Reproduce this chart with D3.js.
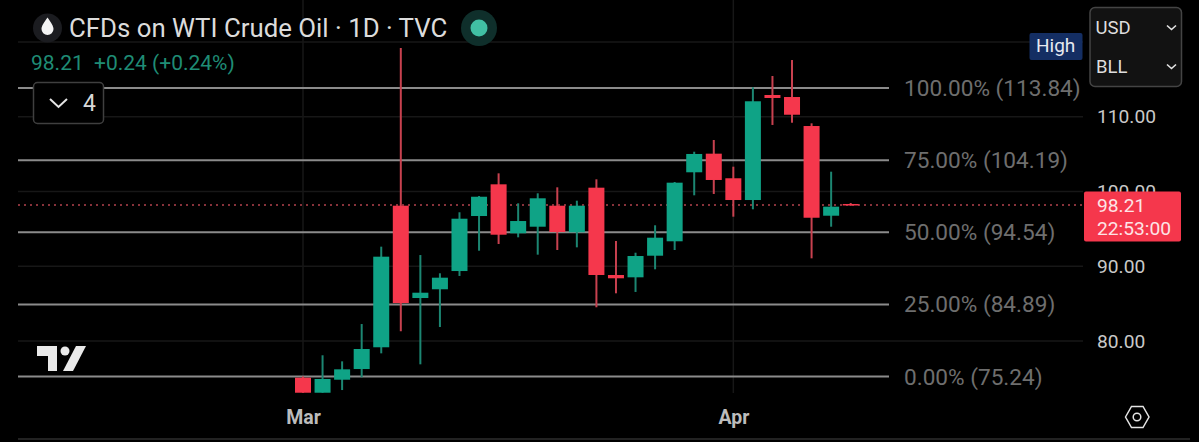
<!DOCTYPE html>
<html>
<head>
<meta charset="utf-8">
<script src="https://cdn.jsdelivr.net/npm/d3@7"></script>
<style>
  html, body { margin: 0; background: #000; }
  svg { display: block; font-family: Roboto, sans-serif; }
</style>
</head>
<body>
<svg id="chart" width="1199" height="442"></svg>
<script>
// trading days, Mar 2 to Apr 9
const days = ["03-02","03-03","03-04","03-05","03-06","03-09","03-10","03-11","03-12","03-13",
  "03-16","03-17","03-18","03-19","03-20","03-23","03-24","03-25","03-26","03-27",
  "03-30","03-31","04-01","04-02","04-03","04-06","04-07","04-08","04-09"];
const opens = [75.09,73.08,74.82,76.25,79.16,98.10,85.75,86.92,89.36,96.72,100.96,94.41,95.29,98.10,94.54,
  100.51,88.83,88.52,91.41,93.34,102.57,105.06,101.77,98.86,112.91,112.64,108.76,96.76,98.33];
const closes = [73.08,74.92,76.21,78.93,91.28,85.08,86.46,88.47,96.36,99.30,94.22,96.05,99.09,94.58,98.10,
  88.83,88.39,91.37,93.82,101.18,105.02,101.54,98.86,112.07,112.51,110.27,96.49,97.97,98.21];
const highs = [75.24,78.09,77.28,82.27,92.62,119.20,91.50,89.06,97.22,99.40,102.43,98.42,99.76,100.56,98.77,
  101.63,93.38,91.81,95.48,101.27,105.32,106.89,103.32,113.94,115.45,117.59,109.12,102.65,98.46];
const lows = [73.08,73.08,73.44,75.14,78.35,81.30,76.88,81.87,88.70,92.08,92.98,93.87,91.55,92.17,92.53,
  84.51,86.38,86.56,89.59,92.17,99.49,99.67,96.63,97.62,108.90,109.20,91.06,95.29,98.10];

const fibLevels = [100, 75, 50, 25, 0];
const fibPrices = [113.84, 104.19, 94.54, 84.89, 75.24];
const priceTicks = [110, 100, 90, 80];
const gridPrices = [120, 110, 100, 90, 80];
const monthTicks = ["03-02", "04-01"];
const monthNames = ["Mar", "Apr"];
const lastPrice = 98.21;

const red = "#f5374c", green = "#0fa386";
const redWick = "#c8414f", greenWick = "#1c8672";

const svg = d3.select("#chart");
const x = d3.scalePoint().domain(days).range([303, 850.7]);
const y = d3.scaleLinear().domain([80, 110]).range([341, 116.75]);
const bodyWidth = 16;

// grid
const grid = svg.append("g").attr("stroke", "#171717").attr("stroke-width", 1.5);
grid.selectAll("line.h").data(gridPrices).join("line").attr("class", "h")
  .attr("x1", 18).attr("x2", 1083).attr("y1", (d) => y(d)).attr("y2", (d) => y(d));
grid.selectAll("line.v").data(monthTicks).join("line").attr("class", "v")
  .attr("x1", (d) => x(d)).attr("x2", (d) => x(d)).attr("y1", 0).attr("y2", 393);

// fib levels
svg.append("g").selectAll("line").data(fibPrices).join("line")
  .attr("x1", 18).attr("x2", 889)
  .attr("y1", (d) => y(d)).attr("y2", (d) => y(d))
  .attr("stroke", "#8b8b8b").attr("stroke-width", 2);

svg.append("g").selectAll("text").data(fibPrices).join("text")
  .attr("x", 904).attr("y", (d) => y(d) + 8)
  .attr("fill", "#6e6e6e").attr("font-size", 22.6)
  .text((d, i) => `${fibLevels[i].toFixed(2)}% (${d.toFixed(2)})`);

// last price line
svg.append("line").attr("x1", 18).attr("x2", 1084)
  .attr("y1", y(lastPrice)).attr("y2", y(lastPrice))
  .attr("stroke", "#b4434e").attr("stroke-width", 1.5).attr("stroke-dasharray", "2 4");

// candles
const candles = svg.append("g").selectAll("g").data(days).join("g")
  .attr("transform", (d) => `translate(${x(d)},0)`);
candles.append("line")
  .attr("y1", (d, i) => y(highs[i])).attr("y2", (d, i) => y(lows[i]))
  .attr("stroke", (d, i) => (closes[i] >= opens[i] ? greenWick : redWick))
  .attr("stroke-width", 2);
candles.append("rect")
  .attr("x", -bodyWidth / 2).attr("width", bodyWidth)
  .attr("y", (d, i) => y(Math.max(opens[i], closes[i])))
  .attr("height", (d, i) => Math.max(1.5, Math.abs(y(opens[i]) - y(closes[i]))))
  .attr("fill", (d, i) => (closes[i] >= opens[i] ? green : red));

// price axis
const yAxis = svg.append("g").attr("transform", "translate(1097,0)")
  .call(d3.axisRight(y).tickValues(priceTicks).tickSize(0).tickPadding(0).tickFormat(d3.format(".2f")));
yAxis.select(".domain").remove();
yAxis.selectAll("text").attr("fill", "#c9c9c9").attr("font-size", 19.2).attr("font-family", "Roboto, sans-serif");

// time axis
const xAxis = svg.append("g").attr("transform", "translate(0,410)")
  .call(d3.axisBottom(x).tickValues(monthTicks).tickSize(0).tickPadding(0)
    .tickFormat((d) => monthNames[monthTicks.indexOf(d)]));
xAxis.select(".domain").remove();
xAxis.selectAll("text").attr("fill", "#bcbcbc").attr("font-size", 19.5).attr("font-weight", 700)
  .attr("font-family", "Roboto, sans-serif");
svg.append("line").attr("x1", 18).attr("x2", 1190).attr("y1", 439).attr("y2", 439)
  .attr("stroke", "#222").attr("stroke-width", 2);

// last price tag
svg.append("rect").attr("x", 1084).attr("y", 191.5).attr("width", 97).attr("height", 50).attr("rx", 2).attr("fill", red);
svg.append("text").attr("x", 1097).attr("y", 212).attr("fill", "#fde4e6").attr("font-size", 19.2).text("98.21");
svg.append("text").attr("x", 1097).attr("y", 235).attr("fill", "#fde4e6").attr("font-size", 19.2).text("22:53:00");

// header
svg.append("circle").attr("cx", 47.5).attr("cy", 28).attr("r", 14.5).attr("fill", "#1b1c20");
svg.append("path").attr("d", "M47.5 17.5C51 22.5 53.5 26 53.5 29a6 6 0 0 1-12 0C41.5 26 44 22.5 47.5 17.5Z").attr("fill", "#f4f4f4");
svg.append("text").attr("x", 69).attr("y", 37).attr("fill", "#dcdcdc").attr("font-size", 25.8).text("CFDs on WTI Crude Oil · 1D · TVC");
svg.append("circle").attr("cx", 479).attr("cy", 28).attr("r", 18).attr("fill", "#0f2f2b");
svg.append("circle").attr("cx", 479).attr("cy", 28).attr("r", 8.5).attr("fill", "#41bfa3");
svg.append("text").attr("x", 31).attr("y", 70).attr("fill", "#1f8c75").attr("font-size", 21).text("98.21");
svg.append("text").attr("x", 94).attr("y", 70).attr("fill", "#1f8c75").attr("font-size", 21).text("+0.24 (+0.24%)");

// collapsed indicators button
svg.append("rect").attr("x", 33.5).attr("y", 82.5).attr("width", 70).attr("height", 41).attr("rx", 4)
  .attr("fill", "#000").attr("stroke", "#3f3f3f").attr("stroke-width", 1.5);
svg.append("path").attr("d", "M50 99l8.5 8 8.5-8").attr("fill", "none").attr("stroke", "#e4e4e4").attr("stroke-width", 2);
svg.append("text").attr("x", 83).attr("y", 111).attr("fill", "#d8d8d8").attr("font-size", 23).text("4");

// high badge
svg.append("rect").attr("x", 1029.5).attr("y", 33).attr("width", 53).attr("height", 27).attr("rx", 2).attr("fill", "#142e63");
svg.append("text").attr("x", 1036).attr("y", 52).attr("fill", "#e6e9f0").attr("font-size", 19).text("High");

// currency box
svg.append("rect").attr("x", 1090).attr("y", 7.5).attr("width", 91.5).attr("height", 79).attr("rx", 5)
  .attr("fill", "#121212").attr("stroke", "#444").attr("stroke-width", 1.5);
svg.append("text").attr("x", 1095.5).attr("y", 34).attr("fill", "#dedede").attr("font-size", 18.5).text("USD");
svg.append("text").attr("x", 1096).attr("y", 73).attr("fill", "#dedede").attr("font-size", 18.5).text("BLL");
svg.selectAll("path.chev").data([27.5, 66.5]).join("path").attr("class", "chev")
  .attr("d", (d) => `M1167 ${d - 2}l4.5 4 4.5-4`)
  .attr("fill", "none").attr("stroke", "#e4e4e4").attr("stroke-width", 1.6);

// tradingview logo
const logo = svg.append("g").attr("transform", "translate(37,345)").attr("fill", "#e9e9e9");
logo.append("path").attr("d", "M0 1H20V26H11V11H0Z");
logo.append("circle").attr("cx", 28).attr("cy", 6).attr("r", 4.5);
logo.append("path").attr("d", "M39 1H49L36 26H26Z");

// settings hexagon
svg.append("path").attr("d", "M1125.5 417l6-10.5h11.5l6 10.5-6 10.5h-11.5Z")
  .attr("fill", "none").attr("stroke", "#e4e4e4").attr("stroke-width", 1.5);
svg.append("circle").attr("cx", 1137).attr("cy", 417).attr("r", 3.8)
  .attr("fill", "none").attr("stroke", "#e4e4e4").attr("stroke-width", 1.5);
</script>
</body>
</html>
